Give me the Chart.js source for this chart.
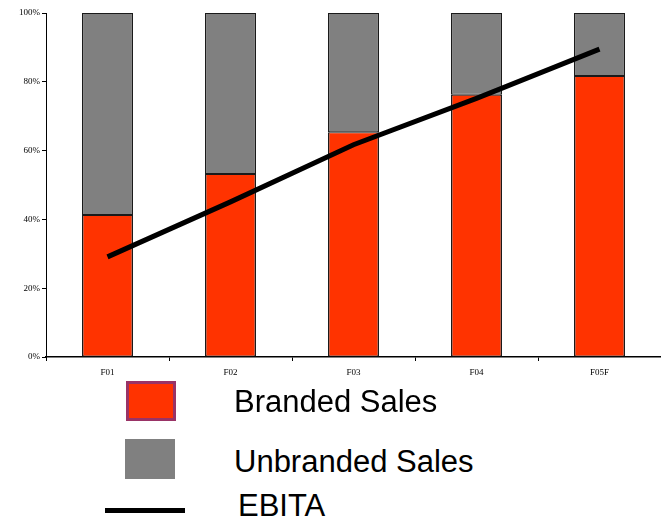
<!DOCTYPE html>
<html>
<head>
<meta charset="utf-8">
<script src="https://cdn.jsdelivr.net/npm/chart.js@4"></script>
<style>
  body { margin: 0; background: #fff; width: 661px; height: 516px; overflow: hidden; position: relative; font-family: "Liberation Sans", Arial, sans-serif; }
  #wrap { position: absolute; left: 0; top: 0; width: 661px; height: 385px; }
  .sw { position: absolute; }
  .lbl { position: absolute; font-size: 31px; color: #000; line-height: 1; white-space: nowrap; }
</style>
</head>
<body>
<div id="wrap"><canvas id="ventasChart"></canvas></div>

<!-- leyenda -->
<div class="sw" style="left:126px;top:381px;width:44px;height:34px;background:#ff3300;border:3px solid #993366;"></div>
<div class="lbl" style="left:234px;top:386px;">Branded Sales</div>
<div class="sw" style="left:125px;top:439px;width:50px;height:40px;background:#808080;"></div>
<div class="lbl" style="left:234px;top:446px;">Unbranded Sales</div>
<div class="sw" style="left:105px;top:508px;width:80px;height:5px;background:#000;"></div>
<div class="lbl" style="left:238px;top:490px;">EBITA</div>

<script>
// datos
let periodos = ["F01", "F02", "F03", "F04", "F05F"];
let branded = [41.3, 53.2, 65.3, 76.2, 81.7];
let unbranded = [58.7, 46.8, 34.7, 23.8, 18.3];
let ebita = [29.1, 45.1, 61.7, 75.2, 89.5];
let yTicks = [0, 20, 40, 60, 80, 100];

let ctx = document.getElementById("ventasChart").getContext("2d");
let fuenteEje = { family: "'Liberation Serif', 'Times New Roman', serif", size: 9 };
let bordeBarra = { top: 1, bottom: 1, left: 1.5, right: 1.5 };

window.myChart = new Chart(ctx, {
    type: "bar",
    data: {
        labels: periodos,
        datasets: [
            {
                type: "line",
                label: "EBITA",
                data: ebita,
                stack: "ebita",
                borderColor: "#000",
                borderWidth: 5,
                pointRadius: 0,
                tension: 0,
                fill: false,
                order: 0
            },
            {
                label: "Branded Sales",
                data: branded,
                stack: "ventas",
                backgroundColor: "#ff3300",
                borderColor: "#1a1a1a",
                borderWidth: bordeBarra,
                borderSkipped: false,
                barPercentage: 0.415,
                categoryPercentage: 1,
                order: 1
            },
            {
                label: "Unbranded Sales",
                data: unbranded,
                stack: "ventas",
                backgroundColor: "#808080",
                borderColor: "#1a1a1a",
                borderWidth: bordeBarra,
                borderSkipped: false,
                barPercentage: 0.415,
                categoryPercentage: 1,
                order: 1
            }
        ]
    },
    options: {
        responsive: true,
        maintainAspectRatio: false,
        animation: false,
        layout: { padding: { top: 13, right: 0, left: 0, bottom: 0 } },
        plugins: {
            legend: { display: false },
            tooltip: { enabled: false }
        },
        scales: {
            x: {
                stacked: true,
                offset: true,
                grid: { drawOnChartArea: false, drawTicks: true, tickLength: 4, color: "#000", offset: true },
                border: { color: "#000", width: 1.5 },
                ticks: { color: "#000", font: fuenteEje, padding: 6 },
                afterFit: s => { s.height = 28; }
            },
            y: {
                stacked: true,
                min: 0,
                max: 100,
                afterBuildTicks: s => { s.ticks = yTicks.map(v => ({ value: v })); },
                grid: { drawOnChartArea: false, drawTicks: true, tickLength: 4, color: "#000" },
                border: { color: "#000", width: 1 },
                ticks: { color: "#000", font: fuenteEje, padding: 2, callback: v => v + "%" },
                afterFit: s => { s.width = 46; }
            }
        }
    }
});
</script>
</body>
</html>
